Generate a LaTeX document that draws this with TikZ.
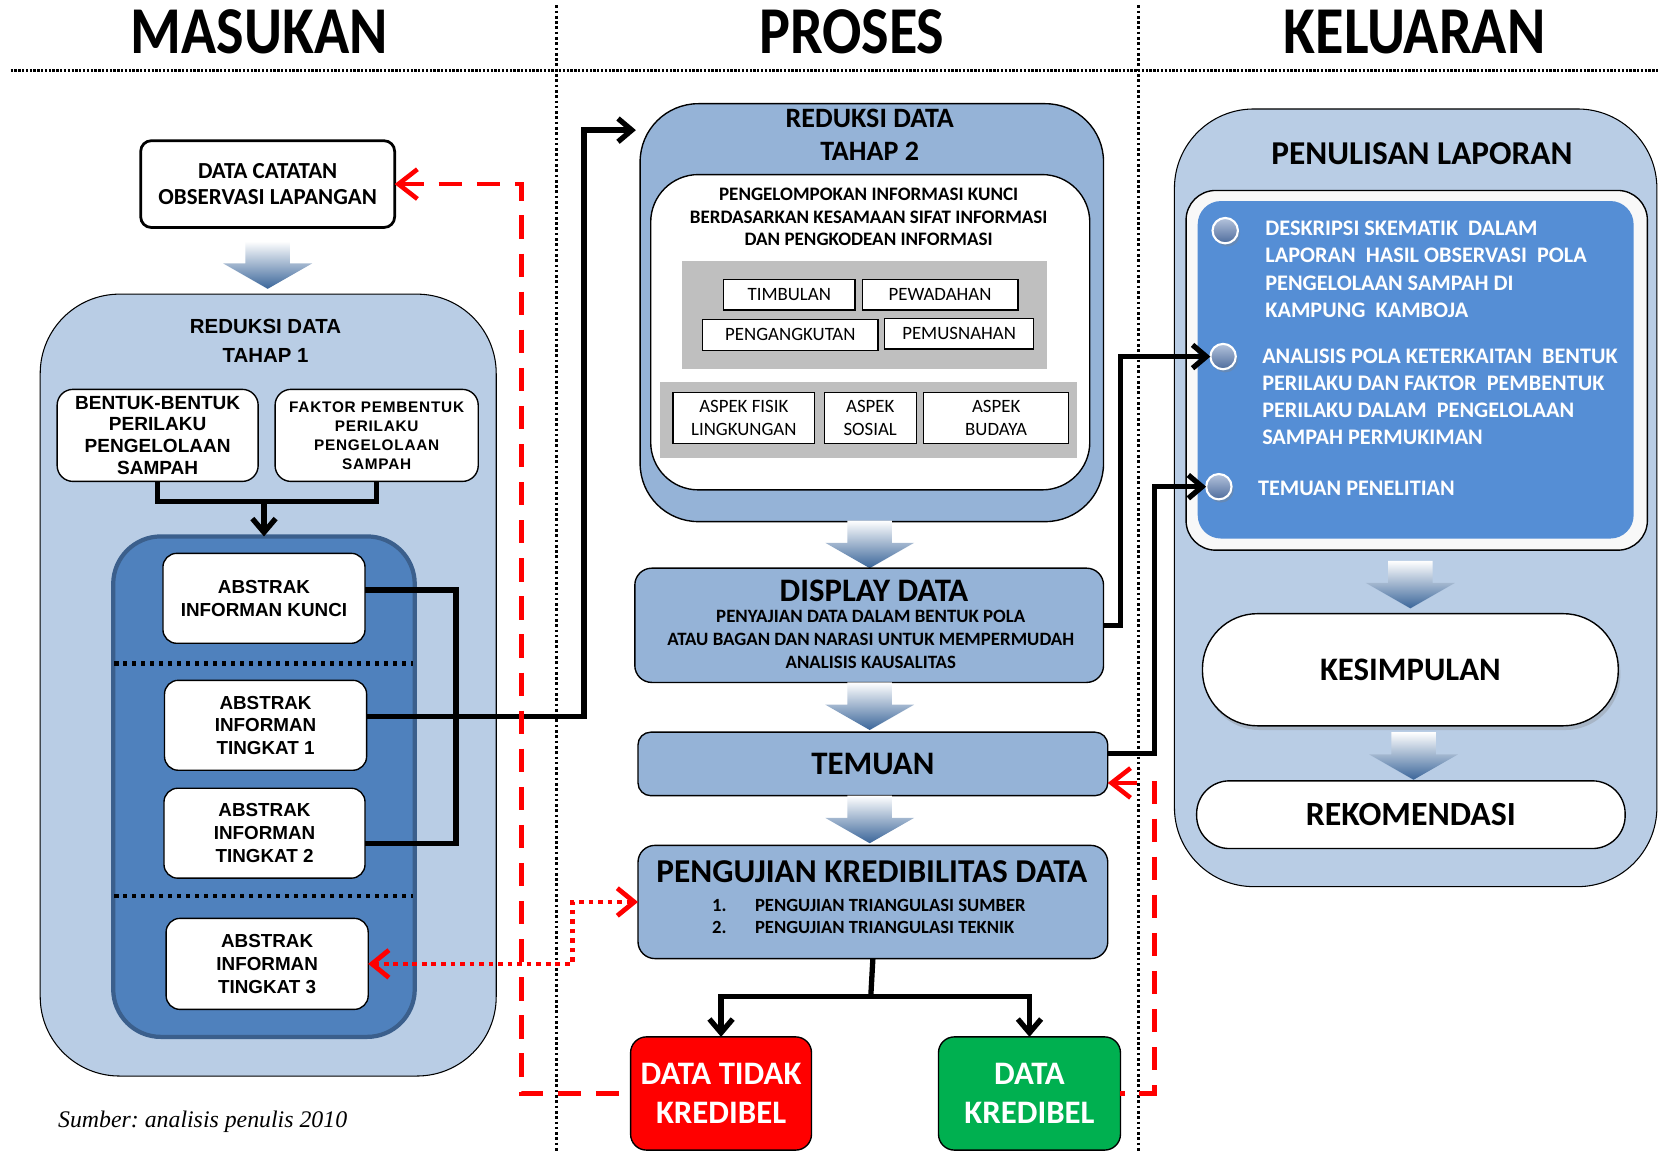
\documentclass[tikz,border=0pt]{standalone}
\usepackage{fontspec}
\setmainfont{Carlito}
\newfontfamily\arialf{Liberation Sans}
\newfontfamily\serifit{Liberation Serif}
\usetikzlibrary{arrows.meta,calc,shadows}
\newcommand\fs[2]{\fontsize{#1}{#2}\selectfont}
\frenchspacing
\definecolor{lblue}{HTML}{B9CDE5}
\definecolor{mblue}{HTML}{95B3D7}
\definecolor{dblue}{HTML}{4F81BD}
\definecolor{dborder}{HTML}{3B5F8C}
\definecolor{bblue}{HTML}{558ED5}
\definecolor{gray75}{HTML}{BFBFBF}
\definecolor{kgreen}{HTML}{00B050}
\definecolor{chevdark}{HTML}{3A6599}
\definecolor{chevmid}{HTML}{D3DDEA}
\definecolor{offwhite}{HTML}{F8F8F8}
\definecolor{balltop}{HTML}{B4C3DC}
\definecolor{ballbot}{HTML}{4E6C9C}
\newcommand\chev[2]{\begin{scope}[shift={(#1,#2)}]
\shade[top color=white, middle color=chevmid, bottom color=chevdark]
 (-21,-45) -- (21,-45) -- (21,-24) -- (42,-24) -- (0,0) -- (-42,-24) -- (-21,-24) -- cycle;
\end{scope}}
\begin{document}
\begin{tikzpicture}[x=1pt,y=-1pt,
  every node/.style={inner sep=0pt, outer sep=0pt},
  wbox/.style={draw=black, line width=1.3pt, fill=white, rounded corners=13pt, align=center},
  abox/.style={wbox, minimum width=191pt, minimum height=85pt, font=\arialf\bfseries\fs{17.8}{21.5}},
  sbox/.style={draw=black, line width=1.3pt, fill=white, align=center, font=\fs{17.8}{21}},
  mbox/.style={draw=black, line width=1.3pt, fill=mblue, rounded corners=16pt},
  ttl/.style={font=\bfseries\fs{31}{36}, align=center},
  conn/.style={draw=black, line width=5pt},
  barb/.style={-{Straight Barb[length=13pt,width=22pt]}},
  rdash/.style={draw=red, line width=4.3pt, dash pattern=on 22pt off 14pt},
  rdot/.style={draw=red, line width=4.5pt, dash pattern=on 4.5pt off 4.5pt},
  rbarb/.style={{Straight Barb[length=18pt,width=28pt]}-},
  bdots/.style={draw=black, line width=4pt, dash pattern=on 4pt off 4.5pt},
  bullet/.style={circle, minimum size=24pt, draw=white, line width=2pt, top color=balltop, bottom color=ballbot, drop shadow={opacity=0.35, shadow xshift=2pt, shadow yshift=-3pt}},
  btext/.style={text=white, font=\bfseries\fs{21}{25.7}, align=left, anchor=west},
  hdr/.style={font=\bfseries\fs{55}{60}}
]
\fill[white] (0,0) rectangle (1568,1089);
\useasboundingbox (0,0) rectangle (1568,1089);

% headers
\node[hdr] (hm) at (245,30) {\scalebox{1}[1.15]{MASUKAN}};
\node[hdr] (hp) at (805,30) {\scalebox{1}[1.15]{PROSES}};
\node[hdr] (hk) at (1337,30) {\scalebox{1}[1.15]{KELUARAN}};

\draw[line width=3pt, dash pattern=on 2.2pt off 1.4pt] (10,67) -- (1568,67);
\draw[line width=2.2pt, dash pattern=on 2.5pt off 2.5pt] (526,5) -- (526,1089);
\draw[line width=2.2pt, dash pattern=on 2.5pt off 2.5pt] (1076,5) -- (1076,1089);

% ---------------- LEFT ----------------
\node[wbox, line width=2.6pt, rounded corners=10pt, minimum width=240pt, minimum height=82pt, font=\bfseries\fs{21.7}{25}] (datacat) at (253,174) {DATA CATATAN\\OBSERVASI LAPANGAN};
\chev{253}{273}
\node[draw=black, line width=1pt, fill=lblue, rounded corners=75pt, minimum width=431pt, minimum height=739pt] (red1) at (253.5,647.5) {};
\node[font=\arialf\bfseries\fs{19.3}{27}, align=center] (red1t) at (251,322) {REDUKSI DATA\\TAHAP 1};
\node[wbox, rounded corners=15pt, minimum width=190pt, minimum height=87pt, font=\arialf\bfseries\fs{18}{20.5}] (bentuk) at (149,411.5) {BENTUK-BENTUK\\PERILAKU\\PENGELOLAAN\\SAMPAH};
\node[wbox, rounded corners=15pt, minimum width=192pt, minimum height=87pt, font=\arialf\bfseries\fs{14.5}{18}\addfontfeature{LetterSpace=5}] (faktor) at (356,411.5) {FAKTOR PEMBENTUK\\PERILAKU\\PENGELOLAAN\\SAMPAH};
\node[draw=dborder, line width=4pt, fill=dblue, rounded corners=45pt, minimum width=285pt, minimum height=473pt] (inner1) at (249.5,743.5) {};
\node[abox] (kunci) at (249.5,565.5) {ABSTRAK\\INFORMAN KUNCI};
\node[abox] (t1) at (251,685.5) {ABSTRAK\\INFORMAN\\TINGKAT 1};
\node[abox, minimum width=190pt] (t2) at (250,787.5) {ABSTRAK\\INFORMAN\\TINGKAT 2};
\node[abox, minimum height=86pt] (t3) at (252.5,911) {ABSTRAK\\INFORMAN\\TINGKAT 3};
\draw[bdots] (108,627) -- (390,627);
\draw[bdots] (108,847) -- (390,847);

\coordinate (j1) at (249.5,474);
\draw[conn] (bentuk.south) |- (j1) -| (faktor.south);
\draw[conn, barb] (j1) -- (inner1.north);
\coordinate (k1) at (431,0);
\draw[conn] ($(kunci.east)+(0,-8)$) -| ($(k1 |- t2.east)+(0,10)$) -- ($(t2.east)+(0,10)$);

% ---------------- MIDDLE ----------------
\node[draw=black, line width=1.3pt, fill=mblue, rounded corners=55pt, minimum width=438pt, minimum height=395pt] (red2) at (824,295.5) {};
\node[font=\bfseries\fs{26.5}{31}, align=center] (red2t) at (822,127.5) {REDUKSI DATA\\TAHAP 2};
\node[draw=black, line width=1.3pt, fill=white, rounded corners=45pt, minimum width=415pt, minimum height=298pt] (inner2) at (822.5,314) {};
\node[font=\bfseries\fs{18}{21}, align=center] (pengel) at (821,205) {PENGELOMPOKAN INFORMASI KUNCI\\BERDASARKAN KESAMAAN SIFAT INFORMASI\\DAN PENGKODEAN INFORMASI};
\node[fill=gray75, minimum width=345pt, minimum height=102pt] (gray1) at (817.5,298) {};
\node[sbox, minimum width=124pt, minimum height=29pt] (timb) at (746,278.5) {TIMBULAN};
\node[sbox, minimum width=147pt, minimum height=29pt] (pewa) at (888.5,278.5) {PEWADAHAN};
\node[sbox, minimum width=166pt, minimum height=29pt] (pang) at (747,316.5) {PENGANGKUTAN};
\node[sbox, minimum width=141pt, minimum height=29pt] (pemu) at (906.5,315.5) {PEMUSNAHAN};
\node[fill=gray75, minimum width=394pt, minimum height=72pt] (gray2) at (821,397) {};
\node[sbox, minimum width=134pt, minimum height=48pt] (fisik) at (703,395) {ASPEK FISIK\\LINGKUNGAN};
\node[sbox, minimum width=87pt, minimum height=48pt] (sosial) at (822.5,395) {ASPEK\\SOSIAL};
\node[sbox, minimum width=137pt, minimum height=48pt] (budaya) at (941.5,395) {ASPEK\\BUDAYA};

\chev{822}{537}
\node[mbox, minimum width=443pt, minimum height=108pt] (display) at (821.5,591) {};
\node[ttl] (dispt) at (826,558) {DISPLAY DATA};
\node[font=\bfseries\fs{17.8}{21.5}, align=center] (disps) at (823,604.5) {PENYAJIAN DATA DALAM BENTUK POLA\\ATAU BAGAN DAN NARASI UNTUK MEMPERMUDAH\\ANALISIS KAUSALITAS};

\chev{822}{690}
\node[mbox, rounded corners=12pt, minimum width=444pt, minimum height=60pt, ttl] (temuan) at (825,722) {TEMUAN};

\chev{822}{797}
\node[mbox, minimum width=444pt, minimum height=107pt] (pengu) at (825,852.5) {};
\node[ttl, font=\bfseries\fs{31.5}{34}] (pengut) at (824,824) {PENGUJIAN KREDIBILITAS DATA};
\node[anchor=west, font=\bfseries\fs{17.6}{21}] (pengui) at (673,867.5) {\begin{tabular}{@{}l@{\hspace{27pt}}l@{}}1. & PENGUJIAN TRIANGULASI SUMBER\\2. & PENGUJIAN TRIANGULASI TEKNIK\end{tabular}};

\node[draw=black, line width=1.3pt, fill=red, rounded corners=15pt, minimum width=171pt, minimum height=107pt, text=white, font=\bfseries\fs{31}{37}, align=center] (tidak) at (681.5,1033.5) {DATA TIDAK\\KREDIBEL};
\node[draw=black, line width=1.3pt, fill=kgreen, rounded corners=15pt, minimum width=172pt, minimum height=107pt, text=white, font=\bfseries\fs{31}{37}, align=center] (kred) at (973,1033.5) {DATA\\KREDIBEL};

\draw[conn] (pengu.south) -- (823,942) coordinate (j2);
\draw[conn, barb] (j2) -| (tidak.north);
\draw[conn, barb] (j2) -| (kred.north);

% ---------------- RIGHT ----------------
\node[draw=black, line width=1pt, fill=lblue, rounded corners=75pt, minimum width=456pt, minimum height=735pt] (pen) at (1338,470.5) {};
\node[ttl, font=\bfseries\fs{31.5}{36}] (pent) at (1344,145) {PENULISAN LAPORAN};
\node[draw=black, line width=1.3pt, fill=offwhite, rounded corners=28pt, minimum width=436pt, minimum height=340pt] (wbox2) at (1339,350) {};
\node[fill=bblue, rounded corners=22pt, minimum width=412pt, minimum height=319pt] (bbox) at (1338,349.5) {};
\node[bullet] (b1) at (1158,218) {};
\node[bullet] (b2) at (1156,337) {};
\node[bullet] (b3) at (1152,460) {};
\node[btext] (tb1) at (1196,254.5) {DESKRIPSI SKEMATIK\ \ DALAM\\LAPORAN\ \ HASIL OBSERVASI\ \ POLA\\PENGELOLAAN SAMPAH DI\\KAMPUNG\ \ KAMBOJA};
\node[btext] (tb2) at (1193,375) {ANALISIS POLA KETERKAITAN\ \ BENTUK\\PERILAKU DAN FAKTOR\ \ PEMBENTUK\\PERILAKU DALAM\ \ PENGELOLAAN\\SAMPAH PERMUKIMAN};
\node[btext] (tb3) at (1189,462) {TEMUAN PENELITIAN};

\chev{1333}{575}
\node[wbox, rounded corners=52pt, minimum width=393pt, minimum height=106pt, ttl, drop shadow={opacity=0.3, shadow xshift=2pt, shadow yshift=-4pt}] (kes) at (1333,633) {KESIMPULAN};
\chev{1336}{737}
\node[wbox, rounded corners=31pt, minimum width=405pt, minimum height=64pt, ttl, font=\bfseries\fs{32}{36}] (rek) at (1333.5,770) {REKOMENDASI};

% connectors middle/right
\coordinate (c1) at (1059,0);
\coordinate (c2) at (1091,0);
\draw[conn, barb] (display.east) -| (c1 |- b2.west) -- (b2.west);
\draw[conn, barb] ($(temuan.east)+(0,-10)$) -| (c2 |- b3.west) -- (b3.west);
\draw[conn, barb] ($(t1.east)+(0,-8)$) -| (552,123) -- ($(red2.north west)+(-4,25)$);

% red feedback lines
\coordinate (r1) at (493,0);
\draw[rdash, rbarb] (datacat.east) -| (r1 |- tidak.west) -- (tidak.west);
\draw[rdash, rbarb] ($(temuan.east)+(0,18)$) -| (c2 |- kred.east) -- (kred.east);
\coordinate (rd1) at (541,0);
\draw[rdot, {Straight Barb[length=16pt,width=26pt]}-{Straight Barb[length=16pt,width=26pt]}] (t3.east) -| (rd1 |- pengu.west) -- (pengu.west);

% source
\node[anchor=west, font=\serifit\itshape\fs{22.5}{25}] (src) at (55,1060) {Sumber: analisis penulis 2010};
\end{tikzpicture}
\end{document}
